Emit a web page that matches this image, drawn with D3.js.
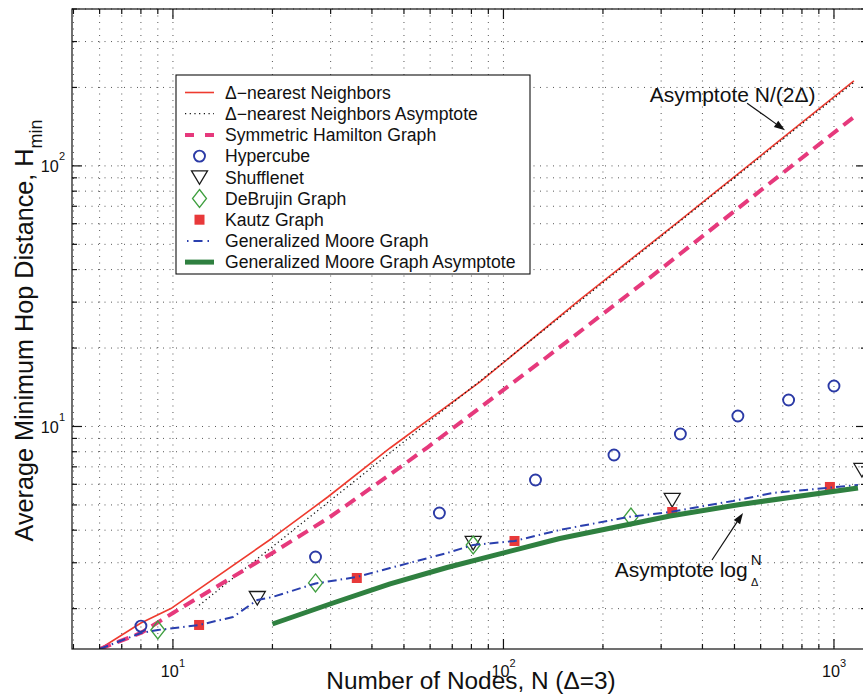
<!DOCTYPE html>
<html><head><meta charset="utf-8">
<script src="https://cdn.jsdelivr.net/npm/d3@7"></script>
<style>
body{margin:0;background:#fff;}
text{font-family:"Liberation Sans",Arial,Helvetica,sans-serif;fill:#111;}
</style>
</head><body>
<svg id="c" width="863" height="698"></svg>
<script>
// ---------- data ----------
const xDomain = [4.95, 1250];
const yDomain = [1.4, 400];
const xTickValues = [10, 100, 1000];
const xTickExps = ["1", "2", "3"];
const yTickValues = [10, 100];
const yTickExps = ["1", "2"];

// Δ-nearest Neighbors
const nnN = [6, 8, 9.93, 20, 29.4, 45.4, 84.9, 170, 337, 1149];
const nnH = [1.4, 1.762, 2.012, 3.734, 5.363, 8.27, 14.82, 30.58, 60.9, 211.8];
// Δ-nearest Neighbors Asymptote
const asyN = [12, 1149];
const asyH = [2.06, 209];
// Symmetric Hamilton Graph
const hamN = [6, 8, 10, 20, 29.85, 45.4, 59.1, 135.4, 271.8, 342, 1141];
const hamH = [1.4, 1.613, 1.925, 3.27, 4.494, 6.544, 8.34, 18.48, 36.5, 45.9, 153.0];
// Hypercube
const hypN = [8, 27, 64, 125, 216, 343, 512, 729, 1000];
const hypH = [1.714, 3.157, 4.657, 6.23, 7.77, 9.36, 10.97, 12.64, 14.30];
// Shufflenet
const shN = [18, 81, 324, 1215];
const shH = [2.197, 3.573, 5.224, 6.81];
// DeBrujin Graph
const dbN = [9, 27, 81, 243];
const dbH = [1.656, 2.509, 3.51, 4.494];
// Kautz Graph
const kzN = [12, 36, 108, 324, 972];
const kzH = [1.731, 2.622, 3.636, 4.697, 5.86];
// Generalized Moore Graph
const gmN = [6, 8, 9, 12, 15.2, 18, 20, 27, 36, 45.4, 67.5, 81, 108, 148, 238, 319, 495, 654, 952, 1182];
const gmH = [1.4, 1.613, 1.656, 1.731, 1.858, 2.159, 2.217, 2.498, 2.646, 2.864, 3.27, 3.51, 3.636, 4.007, 4.494, 4.697, 5.18, 5.56, 5.81, 5.965];
// Generalized Moore Graph Asymptote
const gaN = [20, 30.5, 45.4, 67.5, 148, 319, 519.5, 1182];
const gaH = [1.746, 2.102, 2.487, 2.877, 3.718, 4.536, 5.02, 5.81];

const legendLabels = ["Δ−nearest Neighbors", "Δ−nearest Neighbors Asymptote", "Symmetric Hamilton Graph",
  "Hypercube", "Shufflenet", "DeBrujin Graph", "Kautz Graph", "Generalized Moore Graph",
  "Generalized Moore Graph Asymptote"];

// ---------- layout ----------
const L = 72, R = 866, T = 9, B = 649;
const svg = d3.select("#c");
const x = d3.scaleLog().domain(xDomain).range([L, R]);
const y = d3.scaleLog().domain(yDomain).range([B, T]);

const col = {
  red: "#ee3b2f", pink: "#e6397c", blue: "#2a3fae", circ: "#2b3aa6",
  green: "#2f8040", dia: "#3f9f3f", sq: "#e8393a", tri: "#1a1a1a"
};

svg.append("defs").append("clipPath").attr("id", "clip")
  .append("rect").attr("x", L).attr("y", T).attr("width", R - L).attr("height", B - T);

// grid
const gg = svg.append("g");
const xt = x.ticks(), yt = y.ticks();
gg.selectAll(".gx").data(xt).enter().append("line")
  .attr("x1", d => x(d)).attr("x2", d => x(d)).attr("y1", T).attr("y2", B)
  .attr("stroke", "#444").attr("stroke-width", 0.9).attr("stroke-dasharray", "1,5.5");
gg.selectAll(".gy").data(yt).enter().append("line")
  .attr("y1", d => y(d)).attr("y2", d => y(d)).attr("x1", L).attr("x2", R)
  .attr("stroke", "#444").attr("stroke-width", 0.9).attr("stroke-dasharray", "1,5.5");

const plot = svg.append("g").attr("clip-path", "url(#clip)");
const zip = (a, b) => a.map((v, i) => [v, b[i]]);
const line = d3.line().x(d => x(d[0])).y(d => y(d[1]));

function drawLine(N, H, stroke, w, dash) {
  const p = plot.append("path").attr("d", line(zip(N, H))).attr("fill", "none")
    .attr("stroke", stroke).attr("stroke-width", w).attr("stroke-linejoin", "round");
  if (dash) p.attr("stroke-dasharray", dash);
  return p;
}
const markers = {
  circle: (g, cx, cy) => g.append("circle").attr("cx", cx).attr("cy", cy).attr("r", 5.5)
    .attr("fill", "none").attr("stroke", col.circ).attr("stroke-width", 1.9),
  tri: (g, cx, cy) => g.append("path").attr("d", `M${cx-8},${cy-6.5}L${cx+8},${cy-6.5}L${cx},${cy+7}Z`)
    .attr("fill", "none").attr("stroke", col.tri).attr("stroke-width", 1.3),
  dia: (g, cx, cy) => g.append("path").attr("d", `M${cx},${cy-9}L${cx+7},${cy}L${cx},${cy+9}L${cx-7},${cy}Z`)
    .attr("fill", "none").attr("stroke", col.dia).attr("stroke-width", 1.3),
  sq: (g, cx, cy) => g.append("rect").attr("x", cx - 5).attr("y", cy - 5).attr("width", 10).attr("height", 10)
    .attr("fill", col.sq)
};
function drawMarks(N, H, type) {
  zip(N, H).forEach(d => markers[type](plot, x(d[0]), y(d[1])));
}

drawLine(nnN, nnH, col.red, 1.6);
drawLine(asyN, asyH, "#111", 1.3, "1.2,3");
drawLine(hamN, hamH, col.pink, 4, "12,7");
drawMarks(hypN, hypH, "circle");
drawMarks(shN, shH, "tri");
drawMarks(dbN, dbH, "dia");
drawMarks(kzN, kzH, "sq");
drawLine(gmN, gmH, col.blue, 2, "9,4,1.5,4");
drawLine(gaN, gaH, col.green, 5);

// axes box
const ax = svg.append("g").attr("stroke", "#111").attr("stroke-width", 1.2);
ax.append("rect").attr("x", L).attr("y", T).attr("width", R - L).attr("height", B - T).attr("fill", "none");
const isMajor = v => Math.abs(Math.log10(v) - Math.round(Math.log10(v))) < 1e-9;
xt.forEach(v => {
  const len = isMajor(v) ? 10 : 5, px = x(v);
  ax.append("line").attr("x1", px).attr("x2", px).attr("y1", B).attr("y2", B - len);
  ax.append("line").attr("x1", px).attr("x2", px).attr("y1", T).attr("y2", T + len);
});
yt.forEach(v => {
  const len = isMajor(v) ? 10 : 5, py = y(v);
  ax.append("line").attr("y1", py).attr("y2", py).attr("x1", L).attr("x2", L + len);
  ax.append("line").attr("y1", py).attr("y2", py).attr("x1", R).attr("x2", R - len);
});

// tick labels
xTickValues.forEach((v, i) => {
  const t = svg.append("text").attr("x", x(v)).attr("y", B + 28).attr("text-anchor", "middle")
    .attr("font-size", 16.2).text("10");
  t.append("tspan").attr("font-size", 11).attr("dy", -10).text(xTickExps[i]);
});
yTickValues.forEach((v, i) => {
  const t = svg.append("text").attr("x", L - 7).attr("y", y(v) + 6.5).attr("text-anchor", "end")
    .attr("font-size", 16.2).text("10");
  t.append("tspan").attr("font-size", 11).attr("dy", -12).text(yTickExps[i]);
});

// axis titles
svg.append("text").attr("x", 471).attr("y", 689).attr("text-anchor", "middle")
  .attr("font-size", 24.4).text("Number of Nodes, N (Δ=3)");
const yt1 = svg.append("text").attr("transform", "translate(33,330.5) rotate(-90)")
  .attr("text-anchor", "middle").attr("font-size", 25.2).text("Average Minimum Hop Distance, H");
yt1.append("tspan").attr("font-size", 18).attr("dy", 9).text("min");

// legend
const lg = svg.append("g");
lg.append("rect").attr("x", 176).attr("y", 75).attr("width", 354).attr("height", 199)
  .attr("fill", "#fff").attr("stroke", "#111").attr("stroke-width", 1.1);
const rowY = i => 92.5 + 21.2 * i;
const lx0 = 185, lx1 = 214, lxm = 199.5;
function legLine(i, stroke, w, dash) {
  const l = lg.append("line").attr("x1", lx0).attr("x2", lx1).attr("y1", rowY(i)).attr("y2", rowY(i))
    .attr("stroke", stroke).attr("stroke-width", w);
  if (dash) l.attr("stroke-dasharray", dash);
}
legLine(0, col.red, 1.6);
legLine(1, "#111", 1.3, "1.2,3.5");
legLine(2, col.pink, 4, "9,11");
markers.circle(lg, lxm, rowY(3));
markers.tri(lg, lxm, rowY(4));
markers.dia(lg, lxm, rowY(5));
markers.sq(lg, lxm, rowY(6));
lg.append("line").attr("x1", lx0 + 2).attr("x2", lx1).attr("y1", rowY(7)).attr("y2", rowY(7))
  .attr("stroke", col.blue).attr("stroke-width", 2).attr("stroke-dasharray", "1.5,5,9,5");
legLine(8, col.green, 5);
legendLabels.forEach((s, i) => {
  lg.append("text").attr("x", 225).attr("y", rowY(i) + 6.3).attr("font-size", 17.6).text(s);
});

// annotations
const an = svg.append("g");
function arrow(p0, p1) {
  const x0 = x(p0[0]), y0 = y(p0[1]), x1 = x(p1[0]), y1 = y(p1[1]);
  const a = Math.atan2(y1 - y0, x1 - x0), len = 11, w = 3.8;
  const bx = x1 - len * Math.cos(a), by = y1 - len * Math.sin(a);
  an.append("line").attr("x1", x0).attr("y1", y0).attr("x2", bx).attr("y2", by)
    .attr("stroke", "#111").attr("stroke-width", 1.2);
  an.append("path").attr("d", `M${x1},${y1}L${bx - w * Math.sin(a)},${by + w * Math.cos(a)}L${bx + w * Math.sin(a)},${by - w * Math.cos(a)}Z`)
    .attr("fill", "#111");
}
an.append("text").attr("x", x(277)).attr("y", y(176)).attr("font-size", 21).text("Asymptote N/(2Δ)");
arrow([546, 174], [711, 137]);
const a2 = an.append("text").attr("x", x(217)).attr("y", y(2.646)).attr("font-size", 21).text("Asymptote log");
a2.append("tspan").attr("font-size", 15).attr("dx", 3).attr("dy", -12).text("N");
a2.append("tspan").attr("font-size", 11).attr("dx", -10.5).attr("dy", 21).text("Δ");
arrow([427.6, 3.074], [530.6, 4.656]);
</script>
</body></html>
